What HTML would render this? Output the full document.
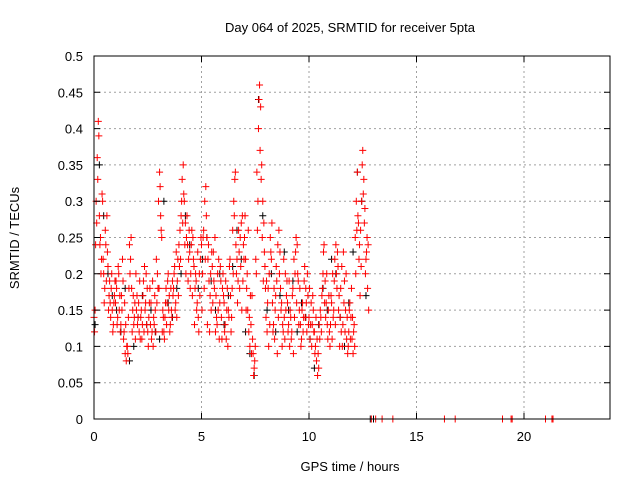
<!DOCTYPE html>
<html><head><meta charset="utf-8"><style>
body{margin:0;background:#fff}
svg text{font-family:"Liberation Sans",sans-serif;font-size:13px;fill:#000}
</style></head><body>
<svg id="chart" width="640" height="480" xmlns="http://www.w3.org/2000/svg">
<text x="350" y="32" text-anchor="middle">Day 064 of 2025, SRMTID for receiver 5pta</text>
<g id="grid"></g>
<g id="marks"></g>
<rect x="94" y="56" width="516" height="363" fill="none" stroke="#000" stroke-width="1"/>
<g id="axes"></g>
<text x="350" y="471" text-anchor="middle">GPS time / hours</text>
<text transform="translate(19,238) rotate(-90)" text-anchor="middle">SRMTID / TECUs</text>
</svg>
<script>
const xTicks=[0,5,10,15,20];
const yTicks=[0,0.05,0.1,0.15,0.2,0.25,0.3,0.35,0.4,0.45,0.5];
const yTickLabels=["0","0.05","0.1","0.15","0.2","0.25","0.3","0.35","0.4","0.45","0.5"];
const redStep=0.05;
const red1=[.14,.15,.30,.36,.41,.28,.25,.22,.30,.20,.18,.24,.28,.21,.17,.16,.18,.15,.13,.17,
.16,.18,.14,.20,.17,.13,.15,.19,.12,.09,.08,.10,.14,.24,.22,.18,.15,.13,.16,.20,
.17,.14,.12,.11,.15,.13,.19,.21,.16,.13,.12,.14,.18,.16,.12,.10,.13,.15,.22,.20,
.30,.34,.28,.25,.15,.12,.14,.18,.16,.20,.17,.13,.15,.19,.18,.21,.16,.14,.22,.24,
.26,.28,.33,.35,.30,.27,.25,.24,.22,.23,.20,.26,.25,.21,.18,.19,.16,.14,.20,.22,
.24,.20,.26,.30,.32,.25,.22,.19,.17,.15,.21,.23,.18,.12,.14,.20,.22,.16,.19,.11,
.20,.16,.13,.11,.18,.15,.21,.17,.14,.26,.30,.33,.24,.22,.19,.23,.25,.27,.28,.24,
.25,.22,.18,.15,.12,.10,.13,.17,.09,.07,.10,.20,.26,.40,.46,.43,.35,.30,.27,.21,
.14,.12,.18,.20,.25,.22,.16,.13,.11,.17,.19,.24,.26,.23,.15,.10,.12,.14,.20,.17,
.16,.13,.10,.14,.12,.18,.22,.20,.25,.24,.19,.15,.13,.11,.16,.14,.21,.18,.12,.17,
.14,.11,.16,.13,.15,.12,.10,.08,.06,.07,.11,.14,.17,.20,.24,.19,.16,.13,.15,.12,
.13,.16,.20,.15,.22,.24,.18,.21,.17,.14,.12,.10,.23,.19,.15,.11,.09,.12,.16,.14,
.11,.09,.13,.25,.30,.34,.27,.24,.26,.30,.37,.33,.29,.22,.25,.24];
const red2=[.12,.24,.27,.33,.39,.24,.20,.31,.22,.16,.26,.19,.23,.15,.19,.14,.20,.12,.16,.19,
.19,.13,.21,.15,.12,.17,.22,.11,.16,.13,.10,.09,.18,.20,.25,.12,.17,.14,.11,.15,
.13,.16,.19,.14,.11,.17,.12,.15,.20,.18,.10,.16,.13,.11,.19,.14,.17,.12,.16,.18,
.18,.32,.26,.12,.14,.11,.16,.13,.19,.15,.12,.18,.14,.17,.20,.15,.23,.19,.17,.21,
.22,.30,.27,.31,.24,.20,.28,.19,.26,.18,.24,.17,.22,.13,.20,.15,.23,.12,.17,.25,
.15,.25,.18,.22,.28,.13,.24,.12,.20,.23,.16,.19,.25,.17,.13,.15,.11,.21,.14,.18,
.17,.12,.19,.15,.10,.14,.22,.12,.18,.20,.28,.34,.20,.16,.26,.18,.21,.15,.19,.22,
.28,.15,.20,.26,.14,.17,.09,.11,.06,.08,.22,.34,.30,.44,.37,.33,.25,.19,.23,.18,
.19,.16,.10,.13,.23,.27,.12,.18,.15,.21,.09,.14,.20,.18,.16,.13,.22,.11,.15,.19,
.12,.19,.15,.11,.17,.09,.14,.23,.16,.20,.13,.18,.10,.15,.12,.19,.14,.16,.20,.13,
.18,.13,.10,.17,.12,.09,.14,.11,.09,.13,.15,.12,.18,.23,.16,.14,.20,.11,.17,.10,
.17,.11,.14,.19,.13,.20,.23,.15,.10,.18,.21,.13,.16,.12,.20,.14,.10,.15,.11,.18,
.14,.12,.10,.20,.26,.28,.22,.17,.21,.35,.31,.27,.20,.23,.18,.15];
const blackStep=0.2;
const black=[.13,.35,.28,.20,.17,.15,.12,.18,.08,.10,.14,.17,.13,.15,.12,.11,.30,.16,.14,.18,.20,.28,.24,.21,.18,.22,.25,.19,.15,.20,.13,.17,.21,.26,.22,.12,.09,.06,.44,.28,.15,.20,.12,.17,.23,.15,.19,.12,.16,.14,.11,.07,.13,.18,.15,.22,.20,.14,.10,.16,.23,.34,.30,.17];
const zeroRedT=[12.9,13.1,13.4,13.9,16.3,16.8,19.0,19.4,19.45,21.0,21.3,21.35];
const zeroBlackT=[12.85,13.0];
const X=t=>94+t*(516/24);
const Y=v=>419-v*726;
const NS="http://www.w3.org/2000/svg";
const grid=document.getElementById('grid'),axes=document.getElementById('axes'),marks=document.getElementById('marks');
function mk(tag,attrs,parent){const e=document.createElementNS(NS,tag);for(const k in attrs)e.setAttribute(k,attrs[k]);parent.appendChild(e);return e;}
xTicks.forEach(t=>{
 if(t>0){const g=mk('line',{x1:X(t),x2:X(t),y1:56,y2:419,stroke:'#a0a0a0','stroke-dasharray':'2,3'},grid);
 
 }
 const tk=mk('path',{d:`M${X(t)},419v-6M${X(t)},56v6`,stroke:'#000'},axes);
 
 
 const l=mk('text',{x:X(t),y:441,'text-anchor':'middle'},axes);l.textContent=t;
 
 
});
yTicks.forEach((v,i)=>{
 if(v>0&&v<0.5){const g=mk('line',{x1:94,x2:610,y1:Y(v),y2:Y(v),stroke:'#a0a0a0','stroke-dasharray':'2,3'},grid);
 
 }
 const tk=mk('path',{d:`M94,${Y(v)}h6M610,${Y(v)}h-6`,stroke:'#000'},axes);
 
 
 const l=mk('text',{x:83,y:Y(v)+5,'text-anchor':'end'},axes);l.textContent=yTickLabels[i];
 
 
});
function plus(t,v,c,name){
 const x=X(t),y=Y(v);
 const p=mk('path',{d:`M${x-3.5},${y}h7M${x},${y-3.5}v7`,stroke:c,'stroke-width':1},marks);
 
 
}
black.forEach((v,i)=>plus(i*blackStep+0.05,v,'#000','black-point'));
zeroBlackT.forEach(t=>plus(t,0,'#000','black-point'));
red1.forEach((v,i)=>plus(i*redStep,v,'#f00','red-point'));
red2.forEach((v,i)=>plus(i*redStep+0.025,v,'#f00','red-point'));
zeroRedT.forEach(t=>plus(t,0,'#f00','red-point'));
</script>
</body></html>
